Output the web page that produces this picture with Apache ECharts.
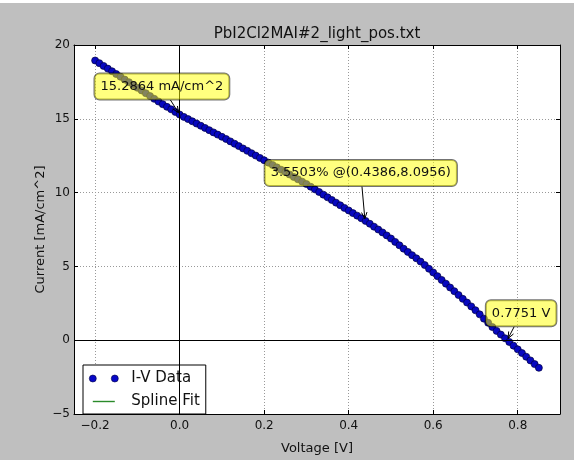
<!DOCTYPE html>
<html><head><meta charset="utf-8">
<script src="https://cdn.jsdelivr.net/npm/echarts@6/dist/echarts.min.js"></script>
<style>html,body{margin:0;padding:0;background:#bfbfbf}#c{width:574px;height:460px}</style>
</head><body><div id="c"></div>
<script>
// ---- data ----
const voltage = [-0.20,-0.19,-0.18,-0.17,-0.16,-0.15,-0.14,-0.13,-0.12,-0.11,-0.10,-0.09,-0.08,-0.07,-0.06,-0.05,-0.04,-0.03,-0.02,-0.01,
  0.00,0.01,0.02,0.03,0.04,0.05,0.06,0.07,0.08,0.09,0.10,0.11,0.12,0.13,0.14,0.15,0.16,0.17,0.18,0.19,
  0.20,0.21,0.22,0.23,0.24,0.25,0.26,0.27,0.28,0.29,0.30,0.31,0.32,0.33,0.34,0.35,0.36,0.37,0.38,0.39,
  0.40,0.41,0.42,0.43,0.44,0.45,0.46,0.47,0.48,0.49,0.50,0.51,0.52,0.53,0.54,0.55,0.56,0.57,0.58,0.59,
  0.60,0.61,0.62,0.63,0.64,0.65,0.66,0.67,0.68,0.69,0.70,0.71,0.72,0.73,0.74,0.75,0.76,0.77,0.78,0.79,
  0.80,0.81,0.82,0.83,0.84,0.85];
const current = [18.95,18.77,18.58,18.40,18.22,18.03,17.85,17.66,17.48,17.29,17.10,16.92,16.73,16.54,16.35,16.17,15.99,15.81,15.64,15.46,
  15.29,15.13,14.98,14.83,14.68,14.53,14.38,14.23,14.08,13.93,13.78,13.63,13.47,13.31,13.15,12.99,12.83,12.67,12.51,12.35,
  12.19,12.03,11.87,11.71,11.55,11.39,11.23,11.06,10.90,10.74,10.58,10.40,10.22,10.04,9.86,9.68,9.50,9.32,9.14,8.96,
  8.79,8.61,8.44,8.26,8.08,7.89,7.69,7.50,7.30,7.10,6.89,6.66,6.43,6.20,5.98,5.76,5.55,5.33,5.09,4.84,
  4.59,4.34,4.08,3.83,3.57,3.32,3.06,2.80,2.55,2.29,2.03,1.75,1.46,1.18,0.89,0.63,0.38,0.13,-0.12,-0.37,
  -0.62,-0.87,-1.12,-1.37,-1.62,-1.87];
const xTicks = [-0.2, 0.0, 0.2, 0.4, 0.6, 0.8];
const yTicks = [-5, 0, 5, 10, 15, 20];
const titleText = 'PbI2Cl2MAI#2_light_pos.txt';
const xName = 'Voltage [V]';
const yName = 'Current [mA/cm^2]';
const annoText = ['15.2864 mA/cm^2', '3.5503% @(0.4386,8.0956)', '0.7751 V'];
const annoPoint = [[0, 15.2864], [0.4386, 8.0956], [0.7751, 0]];
const annoTextAt = [[-0.042, 17.19], [0.4286, 11.32], [0.808, 1.83]];

const FONT = 'DejaVu Sans';
const pts = voltage.map((v, i) => [v, current[i]]);
const minus = s => s.replace('-', '\u2212');

const chart = echarts.init(document.getElementById('c'), null, {renderer: 'canvas'});
const axisCommon = {
  type: 'value',
  axisLine: {show: true, onZero: false, lineStyle: {color: '#000', width: 1}},
  axisTick: {show: true, inside: true, length: 4, lineStyle: {color: '#000', width: 1}},
};
chart.setOption({
  animation: false,
  backgroundColor: '#bfbfbf',
  title: {text: titleText, left: 317, top: 27, padding: 0, textAlign: 'center',
    textStyle: {fontFamily: FONT, fontSize: 15, fontWeight: 'normal', color: '#111'}},
  grid: {left: 74, top: 45, width: 486, height: 376, containLabel: false, show: true, backgroundColor: '#fff', borderWidth: 0},
  xAxis: [
    Object.assign({}, axisCommon, {
      min: -0.25, max: 0.9, position: 'bottom',
      name: xName, nameLocation: 'middle', nameGap: 28, nameMoveOverlap: false,
      nameTextStyle: {fontFamily: FONT, fontSize: 13, color: '#111'},
      axisTick: Object.assign({}, axisCommon.axisTick, {customValues: xTicks}),
      axisLabel: {customValues: xTicks, margin: 6, fontFamily: FONT, fontSize: 12, color: '#111',
        formatter: v => minus(v.toFixed(1))},
      splitLine: {show: true, lineStyle: {color: '#999', type: [1, 2], width: 1}}
    }),
    Object.assign({}, axisCommon, {
      min: -0.25, max: 0.9, position: 'top',
      axisTick: Object.assign({}, axisCommon.axisTick, {customValues: xTicks}),
      axisLabel: {show: false}, splitLine: {show: false}
    })
  ],
  yAxis: [
    Object.assign({}, axisCommon, {
      min: -5, max: 20, interval: 5, position: 'left',
      name: yName, nameLocation: 'middle', nameGap: 27, nameMoveOverlap: false,
      nameTextStyle: {fontFamily: FONT, fontSize: 13, color: '#111'},
      axisLabel: {margin: 4, fontFamily: FONT, fontSize: 12, color: '#111', formatter: v => minus(String(v))},
      splitLine: {show: true, lineStyle: {color: '#999', type: [1, 2], width: 1}}
    }),
    Object.assign({}, axisCommon, {
      min: -5, max: 20, interval: 5, position: 'right',
      axisLabel: {show: false}, splitLine: {show: false}
    })
  ],
  legend: {
    orient: 'vertical', left: 83, top: 365,
    backgroundColor: '#fff', borderColor: '#000', borderWidth: 1, borderRadius: 0,
    padding: [6, 6, 5, 6], itemWidth: 29, itemHeight: 7, itemGap: 8,
    textStyle: {fontFamily: FONT, fontSize: 15, color: '#111', padding: [0, 0, 0, 8]},
    data: [
      {name: 'I-V Data', icon: 'path://M0,3.5a3.5,3.5 0 1,0 7,0a3.5,3.5 0 1,0 -7,0zM22,3.5a3.5,3.5 0 1,0 7,0a3.5,3.5 0 1,0 -7,0z',
        itemStyle: {color: '#0808c8', borderColor: '#000040', borderWidth: 0.6}},
      {name: 'Spline Fit', icon: 'path://M0,0M29,7M3.5,2.8h22v1.4h-22z', itemStyle: {color: '#2a8a2a', borderWidth: 0}}
    ]
  },
  series: [
    {
      name: 'Spline Fit', type: 'line', data: pts, showSymbol: false, symbol: 'none', z: 2,
      lineStyle: {color: '#008000', width: 1}, itemStyle: {color: '#008000'},
      markLine: {silent: true, symbol: 'none', animation: false, label: {show: false},
        lineStyle: {color: '#000', type: 'solid', width: 1},
        data: [{xAxis: 0}, {yAxis: 0}]}
    },
    {
      name: 'I-V Data', type: 'scatter', data: pts, symbol: 'circle', symbolSize: 7, z: 3,
      itemStyle: {color: '#0808c0', borderColor: '#000040', borderWidth: 0.7, opacity: 1}
    }
  ]
});

// annotations (positions derived from data coordinates through the chart's scales)
const AFS = 13;
const ctx = document.createElement('canvas').getContext('2d');
ctx.font = AFS + 'px "' + FONT + '"';
const graphics = [{type: 'rect', shape: {x: 0, y: 0, width: 574, height: 3}, style: {fill: '#fff'}, silent: true}];
annoText.forEach((t, i) => {
  const c = chart.convertToPixel({xAxisIndex: 0, yAxisIndex: 0}, annoTextAt[i]);
  const p = chart.convertToPixel({xAxisIndex: 0, yAxisIndex: 0}, annoPoint[i]);
  const w = ctx.measureText(t).width;
  const hw = w / 2 + 6, hh = 13.5;
  const dx = p[0] - c[0], dy = p[1] - c[1];
  const len = Math.hypot(dx, dy);
  const tt = Math.min(Math.abs(dx) > 1e-6 ? hw / Math.abs(dx) : 1e9, Math.abs(dy) > 1e-6 ? hh / Math.abs(dy) : 1e9);
  const s = [c[0] + dx * tt, c[1] + dy * tt];
  const ux = dx / len, uy = dy / len;
  const e = [p[0] - ux * 2, p[1] - uy * 2];
  const hl = 7, ang = 0.4;
  const h1 = [e[0] - hl * (ux * Math.cos(ang) - uy * Math.sin(ang)), e[1] - hl * (uy * Math.cos(ang) + ux * Math.sin(ang))];
  const h2 = [e[0] - hl * (ux * Math.cos(-ang) - uy * Math.sin(-ang)), e[1] - hl * (uy * Math.cos(-ang) + ux * Math.sin(-ang))];
  graphics.push({type: 'polyline', z: 90, silent: true, shape: {points: [s, e]}, style: {stroke: '#000', lineWidth: 1, fill: null}});
  graphics.push({type: 'polyline', z: 90, silent: true, shape: {points: [h1, e, h2]}, style: {stroke: '#000', lineWidth: 1, fill: null}});
  graphics.push({type: 'text', z: 100, silent: true, x: c[0], y: c[1],
    style: {text: t, fontFamily: FONT, fontSize: AFS, fill: '#111', align: 'center', verticalAlign: 'middle',
      backgroundColor: 'rgba(255,255,0,0.5)', borderColor: 'rgba(0,0,0,0.55)', borderWidth: 1, borderRadius: 5,
      padding: [7, 6, 6, 6]}});
});
chart.setOption({graphic: graphics});
</script>
</body></html>
